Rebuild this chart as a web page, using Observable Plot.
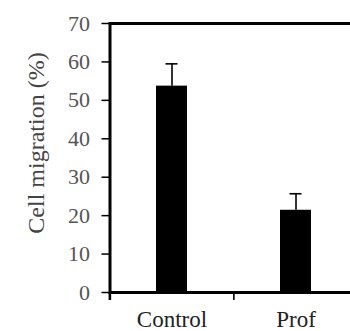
<!DOCTYPE html>
<html>
<head>
<meta charset="utf-8">
<script src="https://cdn.jsdelivr.net/npm/d3@7"></script>
<script src="https://cdn.jsdelivr.net/npm/@observablehq/plot@0.6"></script>
<style>
  html, body { margin: 0; padding: 0; background: #fff; overflow: hidden; font-family: "Liberation Serif", serif; }
  #chart { width: 350px; height: 331px; overflow: hidden; }
  #chart svg { max-width: none !important; }
</style>
</head>
<body>
<div id="chart"></div>
<script>
const categories = ["Control", "Prof"];
const values = [53.7, 21.4];
const errors = [5.8, 4.3];
const yTicks = [0, 10, 20, 30, 40, 50, 60, 70];
const yLabel = "Cell migration (%)";

const data = categories.map((c, i) => ({cat: c, value: values[i], hi: values[i] + errors[i]}));

const W = 358, H = 331, ML = 109.5, MR = 0, MT = 23, MB = 39;
const step = (W - ML - MR) / categories.length;
const font = "Liberation Serif";

const chart = Plot.plot({
  width: W,
  height: H,
  marginLeft: ML,
  marginRight: MR,
  marginTop: MT,
  marginBottom: MB,
  style: {background: "#fff", overflow: "visible", fontFamily: "'Liberation Serif', serif"},
  x: {domain: categories, paddingInner: 0.75, paddingOuter: 0.375, label: null},
  y: {domain: [0, 70], label: null},
  marks: [
    Plot.frame({stroke: "#000", strokeWidth: 3}),
    Plot.barY(data, {x: "cat", y: "value", fill: "#000"}),
    Plot.ruleX(data, {x: "cat", y1: "value", y2: "hi", stroke: "#000", strokeWidth: 1.6}),
    Plot.tickY(data, {x: "cat", y: "hi", stroke: "#000", strokeWidth: 1.6, insetLeft: 9.5, insetRight: 9.5}),
    Plot.ruleX(categories, {x: d => d, y1: 0, y2: 0, insetBottom: -8, dx: -step / 2, stroke: "#000", strokeWidth: 1.6}),
    Plot.ruleX([categories[0]], {x: d => d, y1: 0, y2: 0, insetBottom: -8, dx: -step / 2, stroke: "#000", strokeWidth: 2.6}),
    Plot.axisY({ticks: yTicks, tickSize: 8, tickPadding: 12, fontSize: 22, fontFamily: font, fill: "#555", stroke: "#000", strokeWidth: 1.5, label: null, tickFormat: d => String(d)}),
    Plot.axisX({tickSize: 0, tickPadding: 17.7, fontSize: 23, fontFamily: font, fill: "#222", label: null}),
    Plot.text([yLabel], {text: d => d, frameAnchor: "left", rotate: -90, dx: -74, dy: -15, fontSize: 24, fontFamily: font, fill: "#444", lineAnchor: "middle", textAnchor: "middle"})
  ]
});
d3.select(chart).selectAll("text").style("font-family", "'Liberation Serif', serif");
document.getElementById("chart").appendChild(chart);
</script>
</body>
</html>
